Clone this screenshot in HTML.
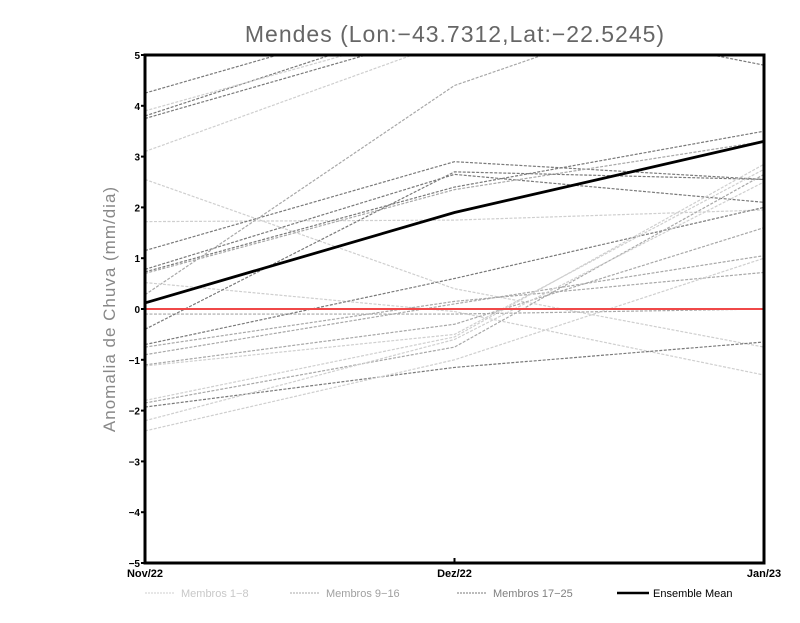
<!DOCTYPE html>
<html><head><meta charset="utf-8"><style>
body{margin:0;background:#fff;width:800px;height:618px;overflow:hidden;font-family:"Liberation Sans",sans-serif}
</style></head><body>
<svg id="chart" width="800" height="618" xmlns="http://www.w3.org/2000/svg">
<defs><clipPath id="plotclip"><rect x="145" y="55" width="619" height="508"/></clipPath></defs>
<text x="455" y="42" text-anchor="middle" font-size="23" fill="#666" letter-spacing="1">Mendes (Lon:−43.7312,Lat:−22.5245)</text>
<text transform="translate(115,309) rotate(-90)" text-anchor="middle" font-size="17" fill="#888" letter-spacing="1">Anomalia de Chuva (mm/dia)</text>
<g id="members" clip-path="url(#plotclip)"></g>
<g id="axes"></g>
<g id="legend"></g>
</svg>
<script>
const categories = ["Nov/22","Dez/22","Jan/23"];
const yTicks = [-5,-4,-3,-2,-1,0,1,2,3,4,5];
const groupOfMember = [3,3,3,1,1,1,1,3,3,3,2,2,1,2,3,3,2,2,2,1,1,2,3,1,1];
const memberStart = [4.25,3.8,3.75,3.9,3.1,2.55,1.72,1.15,0.78,0.73,0.7,0.28,0.52,-0.1,-0.4,-0.7,-0.75,-0.9,-1.1,-1.12,-1.8,-1.85,-1.93,-2.2,-2.4];
const memberMid   = [6.0,5.8,5.5,5.6,5.3,0.4,1.75,2.9,2.65,2.4,2.35,4.4,-0.05,-0.1,2.7,0.6,0.15,0.1,-0.3,-0.5,-0.55,-0.75,-1.15,-0.6,-1.0];
const memberEnd   = [4.8,7,7,7,7,-0.75,1.95,2.55,2.1,3.5,3.3,6.5,-1.3,0.0,2.55,2.0,0.72,1.05,1.6,2.75,2.85,2.65,-0.65,2.5,1.0];
const ensembleMean = [0.12,1.9,3.3];
const legendLabels = ["Membros 1-8","Membros 9-16","Membros 17-25","Ensemble Mean"];
const groupColors = {1:"#cfcfcf",2:"#a8a8a8",3:"#7a7a7a"};
const NS="http://www.w3.org/2000/svg";
const X0=145,X1=764,Y0=563,Y1=55;
function xs(i){return X0+(X1-X0)*i/(categories.length-1);}
function ys(v){return Y0-(v+5)/10*(Y0-Y1);}
function mk(tag,attrs,parent){const e=document.createElementNS(NS,tag);for(const k in attrs)e.setAttribute(k,attrs[k]);parent.appendChild(e);return e;}
const gm=document.getElementById('members'),ga=document.getElementById('axes'),gl=document.getElementById('legend');
for(let m=0;m<memberStart.length;m++){
  const vals=[memberStart[m],memberMid[m],memberEnd[m]];
  const p=mk('polyline',{points:vals.map((v,i)=>xs(i)+','+ys(v)).join(' '),fill:'none',stroke:groupColors[groupOfMember[m]],'stroke-width':1.2,'stroke-dasharray':'3,1.5'},gm);
  
  
}
const z=mk('line',{x1:X0,x2:X1,y1:ys(0),y2:ys(0),stroke:'#f04848','stroke-width':2},gm);


const mean=mk('polyline',{points:ensembleMean.map((v,i)=>xs(i)+','+ys(v)).join(' '),fill:'none',stroke:'#000','stroke-width':2.8},gm);


const fr=mk('rect',{x:X0,y:Y1,width:X1-X0,height:Y0-Y1,fill:'none',stroke:'#000','stroke-width':3},ga);


yTicks.forEach(t=>{
  const tk=mk('line',{x1:X0-4,x2:X0,y1:ys(t),y2:ys(t),stroke:'#000','stroke-width':2},ga);
  
  
  const tx=mk('text',{x:X0-5,y:ys(t)+4,'text-anchor':'end','font-size':10,'font-weight':'bold'},ga);
  tx.textContent=String(t).replace('-','−');
  
  
});
categories.forEach((c,i)=>{
  const tk=mk('line',{x1:xs(i),x2:xs(i),y1:Y0,y2:Y0-5,stroke:'#000','stroke-width':2},ga);
  
  
  const tx=mk('text',{x:xs(i),y:577,'text-anchor':'middle','font-size':11,'font-weight':'bold'},ga);
  tx.textContent=c;
  
  
});
const lx=[145,290,457,617],lcol=[groupColors[1],groupColors[2],groupColors[3],'#000'],tcol=['#c8c8c8','#a0a0a0','#808080','#000'];
legendLabels.forEach((l,i)=>{
  const ln=mk('line',{x1:lx[i],x2:lx[i]+(i==3?32:30),y1:593,y2:593,stroke:lcol[i],'stroke-width':i==3?2.5:1,'stroke-dasharray':i==3?'none':'2,1'},gl);
  
  
  const tx=mk('text',{x:lx[i]+36,y:597,'font-size':11,fill:tcol[i]},gl);
  tx.textContent=l.replace('-','−');
  
  
});
</script>
</body></html>
